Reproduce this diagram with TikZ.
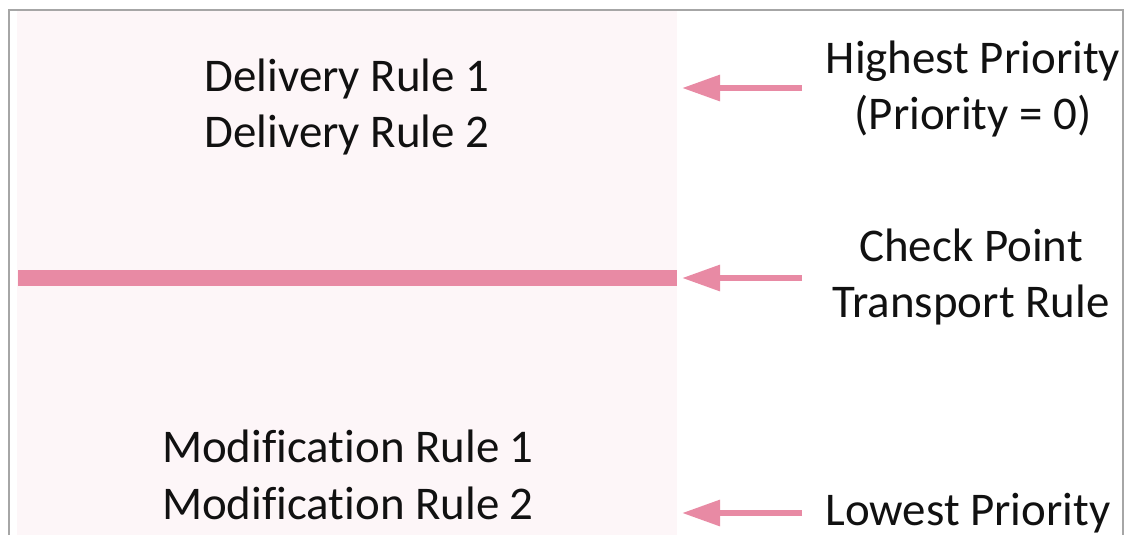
\documentclass[tikz,border=0pt]{standalone}
\usepackage{fontspec}
\setmainfont{Carlito}[Ligatures=NoCommon]
\usepackage{tikz}
\usetikzlibrary{positioning, arrows.meta}
\usepackage{xcolor}
\definecolor{rlpink}{HTML}{E88AA4}
\definecolor{rlback}{HTML}{FDF6F8}
\definecolor{rlframe}{HTML}{A6A6A6}
\definecolor{rltext}{HTML}{111111}
\tikzset{
  rule/.style={text=rltext, font=\fontsize{26.7pt}{32.4pt}\selectfont, align=center, inner sep=0pt},
  prio/.style={draw=rlpink, line width=0.12cm, -{Triangle[length=0.76cm, width=0.5cm]}}
}

\begin{document}
\begin{tikzpicture}[x=0.02cm, y=-0.02cm]
    \useasboundingbox (0,0) rectangle (1125,535);
    \fill[white] (0,0) rectangle (1125,535);
    \fill[rlback] (17,11) rectangle (677,535);
    \draw[rlframe, line width=0.04cm] (9,535) -- (9,10) -- (1123,10) -- (1123,535);
    \draw[rlpink, line width=0.32cm] (18,278) -- (677,278);
    \node[rule] (dr) at (347,107) {Delivery Rule 1\\Delivery Rule 2};
    \node[rule] (mr) at (348,475) {Modification Rule 1\\Modification Rule 2};
    \node[rule] (hi) at (973,89) {Highest Priority\\(Priority = 0)};
    \node[rule] (cp) at (971,277) {Check Point\\Transport Rule};
    \node[rule, anchor=base] (lo) at (968,525) {Lowest Priority};
    \coordinate (hiS) at (802,88);
    \coordinate (hiE) at (682,88);
    \coordinate (cpS) at (802,278);
    \coordinate (cpE) at (682,278);
    \coordinate (loS) at (802,513);
    \coordinate (loE) at (682,513);
    \draw[prio] (hiS) -- (hiE);
    \draw[prio] (cpS) -- (cpE);
    \draw[prio] (loS) -- (loE);
  \end{tikzpicture}
\end{document}
